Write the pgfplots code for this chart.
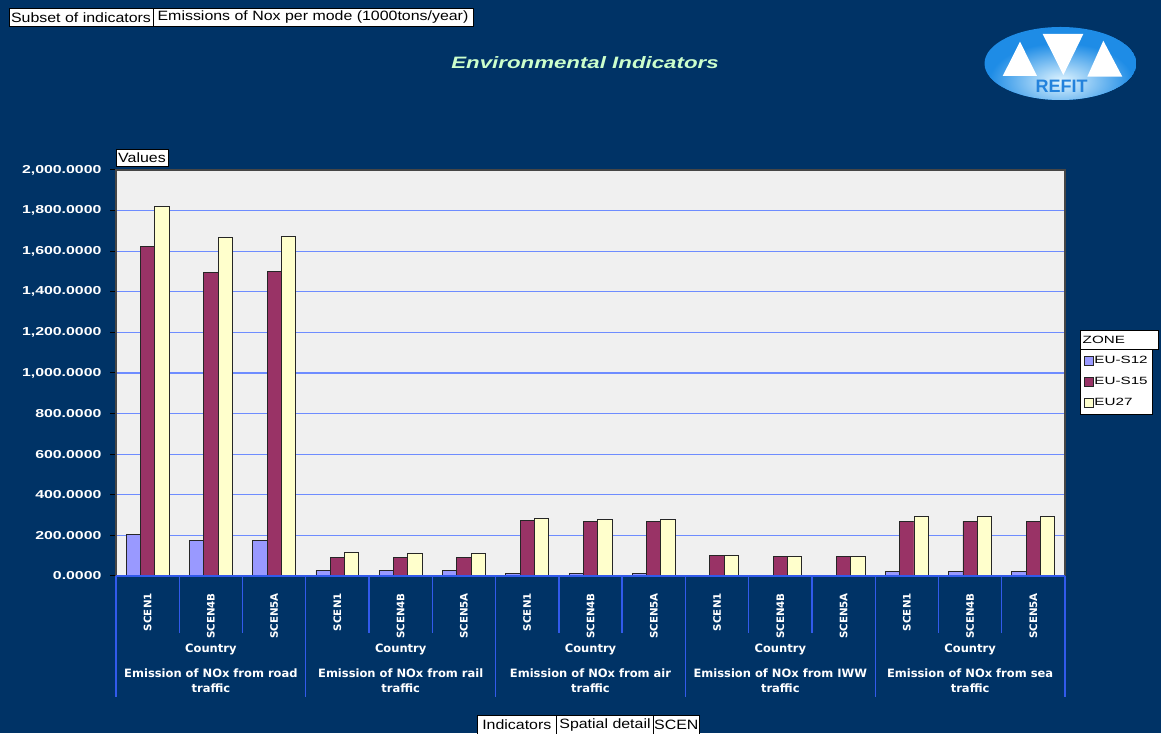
\documentclass[border=0pt]{standalone}
\usepackage{fontspec}
\usepackage{pgfplots}
\usepackage{pgfplotstable}
\pgfplotsset{compat=1.18}
\setmainfont{Liberation Sans}
\newfontfamily\btnfont{Liberation Sans}[FakeStretch=1.18]
\newfontfamily\tickfont{Liberation Sans}[FakeStretch=1.38]
\newfontfamily\legfont{Liberation Sans}[FakeStretch=1.45]
\newfontfamily\titlefont{Liberation Sans}[FakeStretch=1.35]
\newfontfamily\catfont{DejaVu Sans}

\definecolor{navy}{RGB}{0,51,102}
\definecolor{titlegreen}{RGB}{204,255,204}
\definecolor{gridblue}{RGB}{110,140,255}
\definecolor{sepblue}{RGB}{50,90,235}
\definecolor{plotbg}{RGB}{240,240,240}
\definecolor{framegray}{RGB}{70,70,70}
\definecolor{cSa}{RGB}{153,153,255}
\definecolor{cSb}{RGB}{153,51,102}
\definecolor{cEU}{RGB}{255,255,204}
\definecolor{logoout}{RGB}{30,140,230}
\definecolor{logoin}{RGB}{225,245,255}
\definecolor{logotext}{RGB}{35,130,220}

% NOx emissions (1000 tons/year): 5 modes x 3 scenarios
\pgfplotstableread{
x  s12  s15   eu27
0  205  1622  1821
1  175  1496  1668
2  175  1500  1673
3  28   91    118
4  25   90    113
5  25   90    113
6  11   273   284
7  11   268   278
8  11   268   278
9  2    99    99
10 2    98    98
11 2    98    98
12 23   269   291
13 23   269   291
14 23   269   291
}\datatable

\begin{document}
\begin{tikzpicture}[x=1pt,y=1pt]
\useasboundingbox (0,0) rectangle (1161,733);
\fill[navy] (0,0) rectangle (1161,733);

% top buttons
\draw[fill=white,draw=black,line width=0.8pt] (9,707) rectangle (153,725);
\draw[fill=white,draw=black,line width=0.8pt] (153,707) rectangle (473,725);
\node[font=\btnfont\fontsize{13.5}{15}\selectfont] at (81,715.5) {Subset of indicators};
\node[font=\btnfont\fontsize{13.5}{15}\selectfont] at (313,715.5) {Emissions of Nox per mode (1000tons/year)};

% title
\node[font=\titlefont\bfseries\itshape\fontsize{16.5}{18}\selectfont, text=titlegreen] at (585,670) {Environmental Indicators};

% logo
\begin{scope}
  \clip (1060.5,669.5) ellipse (76 and 36.5);
  \fill[logoout] (1060.5,669.5) ellipse (76 and 36.5);
  \shade[inner color=logoin, outer color=logoout] (1061,652) ellipse (72 and 38);
\end{scope}
\fill[white] (1020,691.3) -- (1002.7,657) -- (1037,657) -- cycle;
\fill[white] (1042.7,699) -- (1083.3,699) -- (1063.3,658) -- cycle;
\fill[white] (1103.3,692.3) -- (1087.3,656.3) -- (1122.3,656.3) -- cycle;
\node[font=\bfseries\fontsize{18}{19}\selectfont, text=logotext] at (1061.7,646.3) {REFIT};

\begin{axis}[
  at={(116pt,157pt)}, anchor=south west,
  scale only axis, width=949pt, height=406pt,
  xmin=-0.5, xmax=14.5, ymin=0, ymax=2000,
  ybar=0pt, bar width=14.3pt,
  xtick={0,...,14},
  xticklabels={SCEN1,SCEN4B,SCEN5A,SCEN1,SCEN4B,SCEN5A,SCEN1,SCEN4B,SCEN5A,SCEN1,SCEN4B,SCEN5A,SCEN1,SCEN4B,SCEN5A},
  xtick style={draw=none},
  xticklabel style={rotate=90, anchor=east, inner sep=0pt, text=white,
    font=\catfont\bfseries\fontsize{10.3}{12}\selectfont},
  xticklabel shift=11pt,
  ytick={0,200,...,2000},
  ytick pos=left, xtick pos=bottom,
  ytick style={draw=black, line width=1pt},
  tick align=outside, major tick length=6pt,
  yticklabel style={text=white, xshift=-5pt, font=\tickfont\bfseries\fontsize{11.5}{13}\selectfont,
    /pgf/number format/fixed, /pgf/number format/fixed zerofill,
    /pgf/number format/precision=4, /pgf/number format/1000 sep={,},
    /pgf/number format/assume math mode=true},
  ymajorgrids, grid style={draw=gridblue, line width=1.1pt},
  axis background/.style={fill=plotbg},
  axis line style={draw=framegray, line width=1.3pt},
  clip=false,
  legend image code/.code={\draw[#1, line width=0.6pt] (0pt,-4.5pt) rectangle (9pt,4.5pt);},
  legend style={at={(1.0158,0.559)}, anchor=north west, fill=white, draw=black,
    line width=0.6pt, inner xsep=3.5pt, inner ysep=6pt, row sep=10pt,
    font=\legfont\fontsize{10.5}{12}\selectfont,
    nodes={inner sep=1pt}},
  legend cell align=left,
]
\addplot[fill=cSa, draw=black!85, line width=0.9pt] table[x=x, y=s12] {\datatable};
\addplot[fill=cSb, draw=black!85, line width=0.9pt] table[x=x, y=s15] {\datatable};
\addplot[fill=cEU, draw=black!85, line width=0.9pt] table[x=x, y=eu27] {\datatable};
\legend{EU-S12\hspace{3pt},EU-S15\hspace{3pt},EU27}

% category separators below the axis
\draw[sepblue, line width=1.8pt] (axis cs:-0.5,0) -- (axis cs:14.5,0);
\pgfplotsinvokeforeach{-0.5,2.5,5.5,8.5,11.5,14.5}{
  \draw[sepblue, line width=1.3pt] (axis cs:#1,0) -- ++(0pt,-121pt);
}
\pgfplotsinvokeforeach{0.5,1.5,3.5,4.5,6.5,7.5,9.5,10.5,12.5,13.5}{
  \draw[sepblue, line width=1.3pt] (axis cs:#1,0) -- ++(0pt,-57pt);
}
\pgfplotsinvokeforeach{1,4,7,10,13}{
  \node[text=white, font=\catfont\bfseries\fontsize{11.5}{13}\selectfont] at (axis cs:#1,0) [yshift=-73.3pt] {Country};
}
\tikzset{grp/.style={text=white, align=center, font=\catfont\bfseries\fontsize{11.5}{15}\selectfont}}
\node[grp] at (axis cs:1,0) [yshift=-105pt] {Emission of NOx from road\\traffic};
\node[grp] at (axis cs:4,0) [yshift=-105pt] {Emission of NOx from rail\\traffic};
\node[grp] at (axis cs:7,0) [yshift=-105pt] {Emission of NOx from air\\traffic};
\node[grp] at (axis cs:10,0) [yshift=-105pt] {Emission of NOx from IWW\\traffic};
\node[grp] at (axis cs:13,0) [yshift=-105pt] {Emission of NOx from sea\\traffic};
\end{axis}

% axis field button
\draw[fill=white,draw=black,line width=0.8pt] (116,567) rectangle (168,584);
\node[font=\btnfont\fontsize{13.5}{15}\selectfont] at (142,575) {Values};

% legend header
\draw[fill=white,draw=black,line width=0.6pt] (1080,384) rectangle (1158,403);
\node[anchor=west, font=\legfont\fontsize{10.5}{12}\selectfont, inner sep=0pt] at (1082.5,393.5) {ZONE};

% bottom buttons
\draw[fill=white,draw=black,line width=0.8pt] (477,-2) rectangle (556.7,17.7);
\draw[fill=white,draw=black,line width=0.8pt] (556.7,-2) rectangle (653.3,17.7);
\draw[fill=white,draw=black,line width=0.8pt] (653.3,-2) rectangle (699.3,17.7);
\node[font=\btnfont\fontsize{13.5}{15}\selectfont] at (516.8,8) {Indicators};
\node[font=\btnfont\fontsize{13.5}{15}\selectfont] at (605,8) {Spatial detail};
\node[font=\btnfont\fontsize{13.5}{15}\selectfont] at (676.3,8) {SCEN};
\end{tikzpicture}
\end{document}
